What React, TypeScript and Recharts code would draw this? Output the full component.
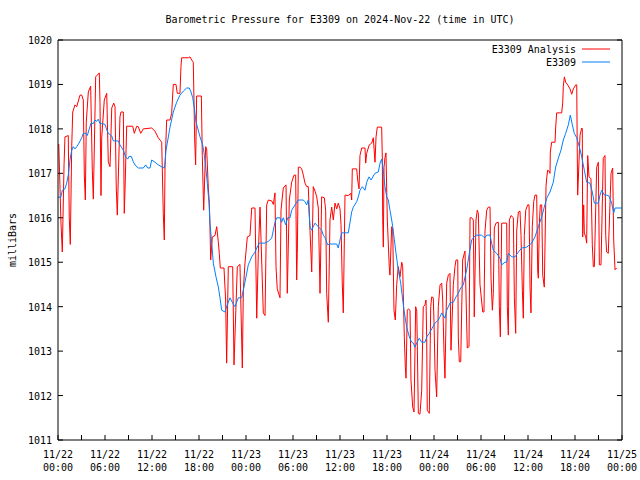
import React from 'react';
import { LineChart, Line, XAxis, YAxis } from 'recharts';

// hours since 11/22 00:00 UTC and pressure (mb) for the analysis series
const analysisHours = [
  0.1, 0.38, 0.55, 0.77, 0.89, 1.31, 1.44, 1.57, 1.75, 1.88, 2.17, 2.39, 2.81, 3.03, 3.23, 3.36, 3.49, 3.61, 3.87, 4.17,
  4.38, 4.51, 4.81, 5.27, 5.36, 5.49, 5.58, 5.91, 6.22, 6.42, 6.64, 6.86, 7.11, 7.28, 7.44, 7.57, 7.91, 8.04, 8.34, 8.46,
  8.55, 8.77, 9.54, 9.74, 10.05, 10.25, 10.56, 10.89, 11.96, 12.38, 12.8, 13.24, 13.44, 13.57, 13.66, 13.87, 14.3, 14.51, 14.72, 15.06,
  15.23, 15.57, 15.7, 15.79, 16.64, 16.85, 17.07, 17.27, 17.45, 17.57, 17.7, 18.3, 18.42, 18.55, 18.6, 18.85, 18.98, 19.19, 19.32, 19.4,
  19.49, 19.7, 20.04, 20.26, 20.47, 20.59, 20.72, 21.19, 21.4, 21.53, 21.74, 22.3, 22.47, 22.89, 23.23, 23.53, 23.66, 23.87, 23.96, 24.17,
  24.51, 24.73, 25.15, 25.37, 25.57, 25.79, 26.21, 26.43, 26.64, 26.85, 27.28, 27.49, 27.7, 27.83, 27.99, 28.34, 28.47, 28.76, 29.11, 29.27,
  29.53, 29.83, 30.13, 30.34, 30.47, 30.55, 30.68, 30.89, 31.11, 31.32, 31.53, 31.75, 31.95, 32.17, 32.39, 32.59, 32.81, 33.03, 33.23, 33.45,
  33.66, 34.0, 34.17, 34.3, 34.51, 34.72, 34.94, 35.15, 35.36, 35.58, 35.78, 36.0, 36.13, 36.29, 36.42, 36.64, 37.06, 37.4, 37.49, 37.57,
  38.13, 38.26, 38.43, 38.55, 38.77, 39.19, 39.28, 39.41, 39.61, 39.74, 40.05, 40.25, 40.47, 40.6, 40.76, 41.32, 41.4, 41.45, 41.53, 41.62,
  41.74, 41.87, 42.04, 42.29, 42.38, 42.6, 42.73, 42.89, 43.06, 43.24, 43.44, 43.66, 43.88, 44.0, 44.08, 44.21, 44.34, 44.43, 44.59, 44.72,
  44.94, 45.06, 45.28, 45.45, 45.66, 45.8, 46.0, 46.21, 46.43, 46.63, 46.85, 46.98, 47.07, 47.14, 47.4, 47.58, 47.71, 47.91, 48.0, 48.13,
  48.34, 48.55, 48.77, 48.98, 49.11, 49.28, 49.4, 49.62, 49.83, 50.04, 50.17, 50.47, 50.68, 50.81, 51.03, 51.1, 51.23, 51.41, 51.66, 51.87,
  51.96, 52.17, 52.25, 52.47, 52.6, 52.81, 53.02, 53.14, 53.36, 53.53, 53.66, 53.87, 54.22, 54.38, 54.51, 54.73, 54.93, 55.15, 55.28, 55.45,
  55.57, 55.7, 55.91, 56.21, 56.34, 56.47, 56.64, 57.28, 57.36, 57.49, 57.62, 57.83, 58.13, 58.26, 58.43, 58.56, 58.77, 58.98, 59.11, 59.28,
  59.4, 59.53, 59.71, 59.96, 60.13, 60.26, 60.38, 60.55, 60.73, 60.89, 61.11, 61.24, 61.32, 61.45, 61.57, 61.75, 61.88, 62.08, 62.3, 62.39,
  62.51, 62.68, 62.81, 62.85, 63.02, 63.45, 63.53, 63.66, 64.3, 64.43, 64.51, 64.64, 64.81, 65.07, 65.36, 65.58, 65.79, 66.09, 66.22, 66.29,
  66.34, 66.42, 66.64, 66.86, 66.93, 66.98, 67.11, 67.19, 67.37, 67.49, 67.62, 67.79, 68.04, 68.21, 68.34, 68.47, 68.77, 68.98, 69.11, 69.32,
  69.61, 69.83, 69.92, 70.04, 70.25, 70.6, 70.81, 70.94, 71.11, 71.32,
];
const analysisValues = [
  1017.66, 1015.88, 1015.23, 1017.19, 1017.82, 1017.85, 1016.0, 1015.4, 1017.6, 1018.38, 1018.54, 1018.5, 1018.76, 1018.76, 1018.65, 1016.96, 1016.4, 1018.15, 1018.83, 1018.96,
  1017.07, 1016.42, 1019.17, 1019.26, 1018.6, 1016.5, 1017.8, 1018.65, 1018.8, 1017.26, 1017.15, 1018.47, 1018.58, 1018.5, 1016.67, 1016.06, 1018.27, 1018.38, 1018.38, 1016.1,
  1016.6, 1018.06, 1018.06, 1017.9, 1018.06, 1018.05, 1017.9, 1018.0, 1018.02, 1017.95, 1017.8, 1017.7, 1016.1, 1015.5, 1017.12, 1018.2, 1018.2, 1018.35, 1019.0, 1019.0,
  1018.8, 1018.8, 1019.41, 1019.6, 1019.6, 1019.62, 1019.55, 1019.5, 1017.75, 1017.19, 1018.74, 1018.74, 1017.4, 1016.5, 1016.17, 1017.6, 1017.55, 1016.67, 1016.33, 1015.8,
  1015.05, 1015.57, 1015.6, 1015.8, 1015.45, 1015.2, 1014.87, 1014.87, 1014.15, 1012.73, 1014.9, 1014.9, 1012.69, 1014.9, 1014.95, 1012.62, 1014.37, 1014.98, 1015.16, 1015.57,
  1015.6, 1016.22, 1016.22, 1013.74, 1015.2, 1016.24, 1013.86, 1013.8, 1016.29, 1016.4, 1016.38, 1016.3, 1016.56, 1014.9, 1014.4, 1014.2, 1016.17, 1016.67, 1016.74, 1014.3,
  1016.4, 1016.8, 1016.96, 1016.96, 1014.6, 1015.2, 1017.14, 1017.14, 1017.1, 1016.96, 1016.78, 1016.7, 1016.7, 1015.72, 1014.78, 1016.7, 1016.6, 1016.47, 1016.22, 1014.3,
  1016.47, 1016.45, 1016.17, 1014.3, 1013.65, 1015.95, 1016.24, 1015.95, 1016.33, 1016.2, 1016.33, 1016.2, 1015.85, 1014.53, 1013.86, 1016.51, 1016.5, 1016.55, 1016.4, 1017.1,
  1017.1, 1016.85, 1016.65, 1017.4, 1017.57, 1017.57, 1017.23, 1017.45, 1017.57, 1017.64, 1017.68, 1017.8, 1017.25, 1017.82, 1018.04, 1018.04, 1017.37, 1016.0, 1015.34, 1017.14,
  1017.35, 1017.46, 1015.95, 1014.9, 1014.71, 1015.8, 1015.75, 1013.92, 1013.7, 1014.5, 1014.9, 1014.67, 1015.0, 1014.9, 1014.3, 1013.32, 1012.64, 1012.39, 1013.92, 1013.95,
  1013.92, 1012.35, 1011.74, 1011.63, 1014.0, 1013.9, 1011.6, 1011.58, 1012.12, 1014.0, 1014.04, 1014.15, 1013.3, 1011.67, 1011.6, 1014.0, 1014.22, 1014.2, 1013.65, 1012.57,
  1011.97, 1014.0, 1014.49, 1014.53, 1014.15, 1012.96, 1012.39, 1014.53, 1014.71, 1014.75, 1013.02, 1014.5, 1014.9, 1015.05, 1015.05, 1013.32, 1012.76, 1012.76, 1015.05, 1015.2,
  1015.25, 1013.63, 1013.07, 1013.1, 1016.0, 1016.0, 1015.95, 1013.77, 1015.95, 1016.17, 1016.1, 1014.5, 1013.88, 1013.88, 1015.7, 1016.17, 1016.24, 1016.24, 1014.64, 1013.92,
  1014.3, 1015.77, 1015.88, 1015.9, 1014.0, 1013.32, 1015.88, 1015.88, 1014.0, 1013.36, 1015.95, 1016.05, 1016.0, 1014.2, 1013.4, 1015.72, 1016.13, 1016.15, 1015.6, 1014.37,
  1013.74, 1015.6, 1016.17, 1016.29, 1016.29, 1014.44, 1013.86, 1015.8, 1016.36, 1016.51, 1016.51, 1014.8, 1014.64, 1015.88, 1016.29, 1016.29, 1014.71, 1014.44, 1016.7, 1016.9,
  1017.07, 1017.05, 1017.0, 1017.48, 1017.7, 1017.7, 1018.02, 1018.36, 1018.36, 1018.58, 1018.96, 1019.17, 1019.05, 1018.99, 1018.9, 1018.78, 1018.9, 1018.99, 1018.99, 1017.46,
  1016.51, 1016.85, 1017.86, 1018.02, 1018.0, 1015.57, 1016.29, 1015.66, 1015.57, 1015.43, 1017.4, 1016.92, 1016.88, 1015.39, 1014.9, 1014.9, 1017.14, 1017.25, 1014.94, 1014.94,
  1017.34, 1017.4, 1015.6, 1015.23, 1015.2, 1017.0, 1017.12, 1015.5, 1014.83, 1014.87,
];

// station observations
const stationHours = [
  0, 0.13, 0.34, 0.55, 0.89, 1.11, 1.31, 1.53, 1.75, 1.95, 2.17, 2.39, 2.68, 3.03, 3.23, 3.54, 3.74, 3.96, 4.21, 4.51,
  4.72, 4.94, 5.14, 5.36, 5.58, 6.0, 6.22, 6.42, 6.86, 7.06, 7.7, 7.91, 8.34, 8.64, 8.9, 9.06, 9.36, 9.61, 9.83, 10.25,
  10.89, 11.2, 11.45, 11.74, 11.96, 12.38, 12.8, 13.31, 13.57, 13.66, 13.79, 13.95, 14.3, 14.72, 15.15, 15.57, 16.0, 16.43, 16.76, 16.98,
  17.2, 17.4, 17.62, 17.83, 18.13, 18.47, 18.64, 18.86, 19.06, 19.28, 19.4, 19.62, 19.83, 20.17, 20.47, 20.68, 20.9, 21.32, 21.61, 21.96,
  22.3, 22.6, 23.02, 23.45, 23.66, 24.0, 24.29, 24.73, 25.15, 25.37, 25.7, 26.43, 26.85, 27.28, 27.49, 27.7, 27.92, 28.34, 28.55, 28.76,
  29.07, 29.32, 29.62, 29.83, 30.26, 30.68, 31.32, 31.53, 31.75, 31.95, 32.17, 32.39, 32.59, 32.81, 33.23, 33.66, 33.87, 34.09, 34.43, 34.72,
  35.58, 35.78, 36.0, 36.22, 37.06, 37.28, 37.49, 37.7, 38.13, 38.34, 38.55, 38.85, 39.19, 39.41, 39.7, 39.96, 40.25, 40.47, 40.89, 41.11,
  41.32, 41.53, 41.74, 41.96, 42.17, 42.38, 42.6, 42.73, 42.89, 43.15, 43.44, 43.75, 43.96, 44.17, 44.51, 44.85, 45.15, 45.36, 45.57, 45.79,
  46.12, 46.43, 46.85, 47.07, 47.4, 47.71, 48.13, 48.55, 48.77, 48.98, 49.4, 49.62, 50.04, 50.47, 50.81, 51.1, 51.41, 51.74, 52.17, 52.51,
  52.81, 53.11, 53.36, 54.09, 54.3, 54.51, 54.73, 55.15, 55.36, 55.57, 56.0, 56.43, 56.64, 57.06, 57.28, 57.49, 57.92, 58.34, 58.77, 59.2,
  59.83, 60.47, 60.89, 61.32, 61.75, 62.08, 62.39, 62.81, 63.23, 63.53, 63.87, 64.21, 64.51, 64.81, 65.15, 65.4, 65.66, 65.91, 66.22, 66.55,
  66.86, 67.19, 67.49, 67.91, 68.21, 68.47, 68.98, 69.19, 69.41, 69.74, 70.04, 70.34, 70.68, 70.94, 71.11, 71.96,
];
const stationValues = [
  1016.45, 1016.47, 1016.45, 1016.62, 1016.65, 1016.78, 1016.96, 1017.3, 1017.52, 1017.6, 1017.55, 1017.6, 1017.68, 1017.8, 1017.9, 1017.9, 1017.85, 1017.98, 1018.13, 1018.12,
  1018.2, 1018.17, 1018.22, 1018.12, 1018.12, 1018.1, 1017.98, 1017.9, 1017.84, 1017.73, 1017.73, 1017.64, 1017.52, 1017.37, 1017.32, 1017.38, 1017.38, 1017.26, 1017.19, 1017.12,
  1017.12, 1017.19, 1017.12, 1017.12, 1017.3, 1017.25, 1017.19, 1017.14, 1017.12, 1017.23, 1017.52, 1017.68, 1018.04, 1018.38, 1018.6, 1018.76, 1018.85, 1018.92, 1018.92, 1018.83,
  1018.7, 1018.47, 1018.15, 1018.02, 1017.82, 1017.64, 1017.46, 1017.14, 1016.78, 1016.33, 1015.88, 1015.43, 1014.98, 1014.67, 1014.44, 1014.2, 1013.92, 1013.88, 1014.04, 1014.2,
  1014.08, 1014.0, 1014.2, 1014.2, 1014.37, 1014.67, 1014.94, 1015.12, 1015.23, 1015.32, 1015.43, 1015.43, 1015.47, 1015.54, 1015.72, 1015.9, 1016.0, 1016.0, 1015.9, 1016.0,
  1015.84, 1016.0, 1016.0, 1016.17, 1016.29, 1016.4, 1016.4, 1016.36, 1016.29, 1016.4, 1015.8, 1015.72, 1015.8, 1015.88, 1015.8, 1015.72, 1015.61, 1015.55, 1015.39, 1015.41,
  1015.41, 1015.32, 1015.5, 1015.66, 1015.66, 1015.9, 1016.13, 1016.24, 1016.36, 1016.47, 1016.62, 1016.7, 1016.62, 1016.8, 1016.92, 1016.85, 1016.94, 1017.0, 1017.03, 1017.23,
  1017.32, 1017.07, 1016.7, 1016.47, 1016.4, 1016.17, 1015.95, 1015.8, 1015.57, 1015.2, 1014.83, 1014.53, 1014.22, 1013.92, 1013.54, 1013.32, 1013.2, 1013.18, 1013.09, 1013.18,
  1013.29, 1013.2, 1013.2, 1013.32, 1013.4, 1013.5, 1013.63, 1013.7, 1013.77, 1013.86, 1013.74, 1013.92, 1014.08, 1014.1, 1014.22, 1014.3, 1014.42, 1014.49, 1014.83, 1015.2,
  1015.5, 1015.57, 1015.61, 1015.61, 1015.57, 1015.55, 1015.61, 1015.61, 1015.43, 1015.27, 1015.2, 1015.09, 1014.94, 1015.0, 1015.0, 1015.2, 1015.12, 1015.12, 1015.23, 1015.32,
  1015.34, 1015.43, 1015.57, 1015.8, 1016.02, 1016.24, 1016.44, 1016.58, 1016.8, 1017.14, 1017.34, 1017.52, 1017.75, 1017.9, 1018.09, 1018.31, 1018.09, 1017.9, 1017.8, 1017.6,
  1017.37, 1017.07, 1016.8, 1016.78, 1016.58, 1016.33, 1016.33, 1016.51, 1016.62, 1016.51, 1016.51, 1016.49, 1016.33, 1016.11, 1016.22, 1016.22,
];

const hourTicks = [0, 3, 6, 9, 12, 15, 18, 21, 24, 27, 30, 33, 36, 39, 42, 45, 48, 51, 54, 57, 60, 63, 66, 69, 72];
const dayLabels = ['11/22', '11/22', '11/22', '11/22', '11/23', '11/23', '11/23', '11/23', '11/24', '11/24', '11/24', '11/24', '11/25'];
const timeLabels = ['00:00', '06:00', '12:00', '18:00', '00:00', '06:00', '12:00', '18:00', '00:00', '06:00', '12:00', '18:00', '00:00'];
const pressureTicks = [1011, 1012, 1013, 1014, 1015, 1016, 1017, 1018, 1019, 1020];

const analysis = analysisHours.map((h, i) => ({ h, v: analysisValues[i] }));
const station = stationHours.map((h, i) => ({ h, v: stationValues[i] }));

const FONT = 'DejaVu Sans Mono';
const TICK = 5;

const BottomTick = (props: any) => {
  const { x, y, payload } = props;
  const v = payload.value;
  const major = v % 6 === 0;
  const idx = v / 6;
  return (
    <g>
      <line x1={x} y1={y} x2={x} y2={y - TICK} stroke="#000" />
      {major && (
        <text x={x} y={y + 18} textAnchor="middle" fontFamily={FONT} fontSize={10} fill="#000">
          {dayLabels[idx]}
        </text>
      )}
      {major && (
        <text x={x} y={y + 31} textAnchor="middle" fontFamily={FONT} fontSize={10} fill="#000">
          {timeLabels[idx]}
        </text>
      )}
    </g>
  );
};

const TopTick = (props: any) => {
  const { x, y } = props;
  return <line x1={x} y1={y} x2={x} y2={y + TICK} stroke="#000" />;
};

const LeftTick = (props: any) => {
  const { x, y, payload } = props;
  return (
    <g>
      <line x1={x} y1={y} x2={x + TICK} y2={y} stroke="#000" />
      <text x={x - 6} y={y + 4} textAnchor="end" fontFamily={FONT} fontSize={10} fill="#000">
        {payload.value}
      </text>
    </g>
  );
};

const RightTick = (props: any) => {
  const { x, y } = props;
  return <line x1={x} y1={y} x2={x - TICK} y2={y} stroke="#000" />;
};

export default function App() {
  return (
    <div style={{ position: 'absolute', left: 0, top: 0, width: 640, height: 480, background: '#fff' }}>
      <LineChart width={640} height={480} margin={{ top: 10, right: 0, bottom: 0, left: 0 }}>
        <XAxis
          xAxisId="bottom"
          dataKey="h"
          type="number"
          domain={[0, 72]}
          ticks={hourTicks}
          interval={0}
          height={40}
          tickSize={0}
          tickMargin={0}
          tickLine={false}
          tick={BottomTick}
          axisLine={{ stroke: '#000' }}
          allowDataOverflow
        />
        <XAxis
          xAxisId="top"
          orientation="top"
          type="number"
          domain={[0, 72]}
          ticks={hourTicks}
          interval={0}
          height={30}
          tickSize={0}
          tickMargin={0}
          tickLine={false}
          tick={TopTick}
          axisLine={{ stroke: '#000' }}
          allowDataOverflow
        />
        <YAxis
          yAxisId="left"
          type="number"
          domain={[1011, 1020]}
          ticks={pressureTicks}
          interval={0}
          width={58}
          tickSize={0}
          tickMargin={0}
          tickLine={false}
          tick={LeftTick}
          axisLine={{ stroke: '#000' }}
          allowDataOverflow
        />
        <YAxis
          yAxisId="right"
          orientation="right"
          type="number"
          domain={[1011, 1020]}
          ticks={pressureTicks}
          interval={0}
          width={18}
          tickSize={0}
          tickMargin={0}
          tickLine={false}
          tick={RightTick}
          axisLine={{ stroke: '#000' }}
          allowDataOverflow
        />
        <Line
          xAxisId="bottom"
          yAxisId="left"
          data={analysis}
          dataKey="v"
          type="linear"
          stroke="#ff0000"
          strokeWidth={1}
          dot={false}
          activeDot={false}
          isAnimationActive={false}
        />
        <Line
          xAxisId="bottom"
          yAxisId="left"
          data={station}
          dataKey="v"
          type="linear"
          stroke="#0080ff"
          strokeWidth={1}
          dot={false}
          activeDot={false}
          isAnimationActive={false}
        />
      </LineChart>
      <svg width={640} height={480} style={{ position: 'absolute', left: 0, top: 0, pointerEvents: 'none' }}>
        <text x={340} y={23} textAnchor="middle" fontFamily={FONT} fontSize={10} fill="#000">
          Barometric Pressure for E3309 on 2024-Nov-22 (time in UTC)
        </text>
        <text x={16} y={240} transform="rotate(-90 16 240)" textAnchor="middle" fontFamily={FONT} fontSize={10} fill="#000">
          milliBars
        </text>
        <text x={576} y={53} textAnchor="end" fontFamily={FONT} fontSize={10} fill="#000">
          E3309 Analysis
        </text>
        <line x1={582} y1={49} x2={610} y2={49} stroke="#ff0000" />
        <text x={576} y={66} textAnchor="end" fontFamily={FONT} fontSize={10} fill="#000">
          E3309
        </text>
        <line x1={582} y1={62} x2={610} y2={62} stroke="#0080ff" />
      </svg>
    </div>
  );
}
